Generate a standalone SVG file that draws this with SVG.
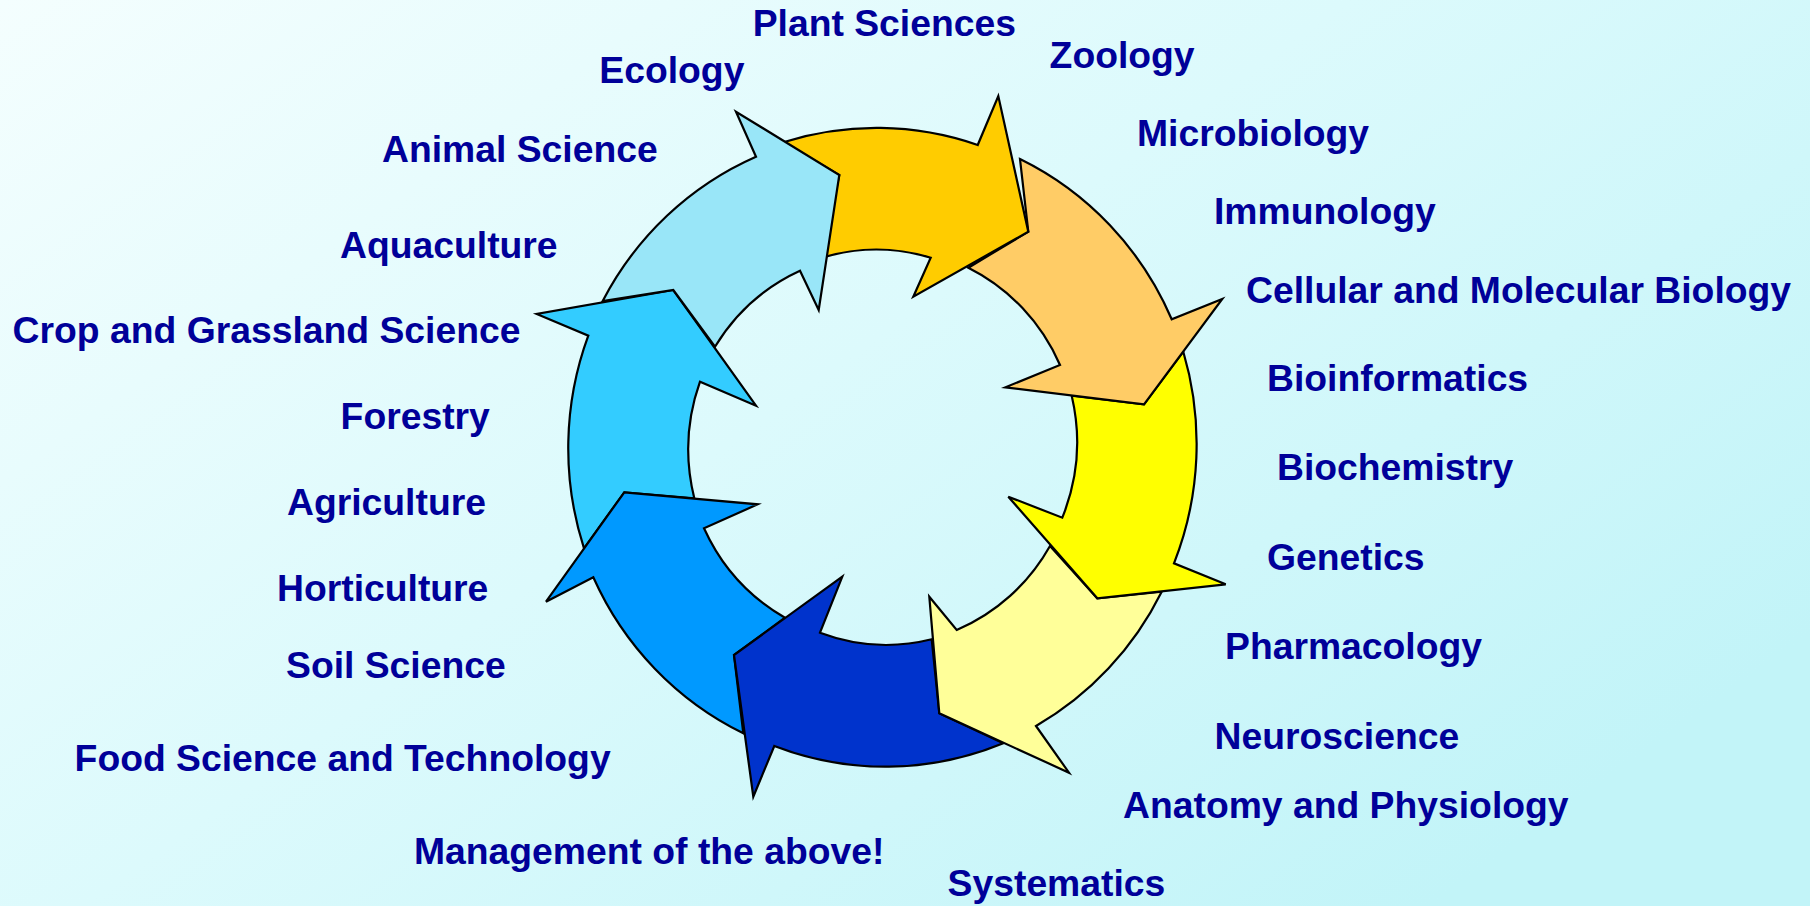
<svg xmlns="http://www.w3.org/2000/svg" width="1810" height="906" viewBox="0 0 1810 906">
<defs>
<linearGradient id="bg" x1="0" y1="0" x2="1" y2="0.7">
<stop offset="0" stop-color="#F4FEFE"/>
<stop offset="0.5" stop-color="#DCFAFC"/>
<stop offset="1" stop-color="#C2F4F8"/>
</linearGradient>
<style>
.arr{stroke:#000;stroke-width:2.2;stroke-linejoin:miter}
.lbl{font-family:"Liberation Sans",Arial,Helvetica,sans-serif;font-weight:bold;font-size:37.3px;fill:#000099}
</style>
</defs>
<rect x="0" y="0" width="1810" height="906" fill="url(#bg)"/>
<g id="cycle">
<g id="arrow-cyan"><path class="arr" fill="#33CCFF" d="M584,548.3 A314 320 0 0 1 588.3,335.7 L536.7,314 L673.3,290 L756,405.7 L700,381.7 A193 198 0 0 0 694.3,498.3 L624.3,492.3 Z"/></g>
<g id="arrow-mediumblue"><path class="arr" fill="#0099FF" d="M743.3,733.3 A314 320 0 0 1 593.3,577.3 L546,601.7 L624.3,492.3 L757.7,504.3 L704,528.3 A193 198 0 0 0 785,617.7 L734,655 Z"/></g>
<g id="arrow-darkblue"><path class="arr" fill="#0033CC" d="M1003.3,743.3 A314 320 0 0 1 774.3,746 L753.3,796.7 L734,655 L842.3,576.7 L820,632.7 A193 198 0 0 0 931.7,639.3 L939.3,713.3 Z"/></g>
<g id="arrow-paleyellow"><path class="arr" fill="#FFFF99" d="M1161.7,591.7 A314 320 0 0 1 1036,726 L1069,772.7 L939.3,713.3 L929.3,596.7 L956.7,630 A193 198 0 0 0 1050,546 L1097.3,598.3 Z"/></g>
<g id="arrow-yellow"><path class="arr" fill="#FFFF00" d="M1183.3,351.7 A314 320 0 0 1 1174,563.3 L1225.7,584.3 L1097.3,598.3 L1008.3,496.7 L1062.3,517.7 A193 198 0 0 0 1071.7,395.7 L1144,404.3 Z"/></g>
<g id="arrow-orange"><path class="arr" fill="#FFCC66" d="M1020,159 A314 320 0 0 1 1171.7,319.3 L1222.3,299 L1144,404.3 L1005.3,387.3 L1060,365 A193 198 0 0 0 968.3,267.7 L1028.3,231.7 Z"/></g>
<g id="arrow-gold"><path class="arr" fill="#FFCC00" d="M783.3,142.3 A314 320 0 0 1 977.7,145 L998.3,96 L1028.3,231.7 L913.3,296.7 L930.7,257.7 A193 198 0 0 0 822,257.7 L839.3,175 Z"/></g>
<g id="arrow-lightblue"><path class="arr" fill="#99E6F8" d="M602.7,301 A314 320 0 0 1 756,156.7 L736,111.7 L839.3,175 L818.7,310 L800,270.7 A193 198 0 0 0 715,346.7 L673.3,290 Z"/></g>
</g>
<g id="labels">
<text class="lbl" x="752.7" y="36">Plant Sciences</text>
<text class="lbl" x="1049.6" y="67.7">Zoology</text>
<text class="lbl" x="599.3" y="82.7">Ecology</text>
<text class="lbl" x="1137" y="146">Microbiology</text>
<text class="lbl" x="382" y="162">Animal Science</text>
<text class="lbl" x="1214" y="223.7">Immunology</text>
<text class="lbl" x="340" y="258">Aquaculture</text>
<text class="lbl" x="1246" y="302.7">Cellular and Molecular Biology</text>
<text class="lbl" x="12.6" y="343">Crop and Grassland Science</text>
<text class="lbl" x="1267" y="391">Bioinformatics</text>
<text class="lbl" x="340.6" y="429">Forestry</text>
<text class="lbl" x="1277" y="480">Biochemistry</text>
<text class="lbl" x="287" y="515">Agriculture</text>
<text class="lbl" x="1267" y="570">Genetics</text>
<text class="lbl" x="277" y="601">Horticulture</text>
<text class="lbl" x="1225" y="659">Pharmacology</text>
<text class="lbl" x="286" y="678">Soil Science</text>
<text class="lbl" x="1214.6" y="748.7">Neuroscience</text>
<text class="lbl" x="74.6" y="771">Food Science and Technology</text>
<text class="lbl" x="1123" y="817.7">Anatomy and Physiology</text>
<text class="lbl" x="414" y="864">Management of the above!</text>
<text class="lbl" x="947.6" y="896">Systematics</text>
</g>
</svg>
